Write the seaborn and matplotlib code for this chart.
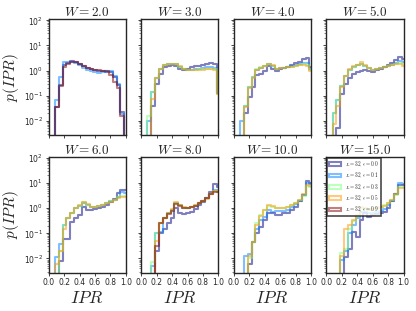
import numpy as np
import pandas as pd
import seaborn as sns
import matplotlib.pyplot as plt
from matplotlib.patches import Patch

# bin edges of the IPR histograms (20 bins, width 0.05)
ipr_edges = [round(0.03 + 0.05 * k, 3) for k in range(21)]
ipr_centers = [round(0.055 + 0.05 * k, 3) for k in range(20)]

disorder = [2.0, 3.0, 4.0, 5.0, 6.0, 8.0, 10.0, 15.0]
eps_values = [0.0, 0.1, 0.3, 0.5, 0.9]

# p(IPR) per bin (None = series not drawn)
w2_e00 = [0, 0.035, 0.26, 1.6, 2.1, 2.4, 2.2, 1.9, 1.55, 1.3, 1.2, 1.1, 1.0, 1.0, 0.9, 0.9, 0.55, 0.26, 0.022, 0]
w2_e01 = [0, 0.065, 0.55, 2.3, 2.3, 2.2, 2.1, 1.6, 1.3, 1.1, 0.97, 0.9, 0.83, 0.9, 0.95, 1.0, 0.6, 0.3, 0.019, 0]
w2_e03 = None
w2_e05 = None
w2_e09 = [0, 0.035, 0.25, 1.4, 1.9, 2.2, 2.2, 1.9, 1.5, 1.3, 1.2, 1.1, 1.05, 0.97, 0.95, 0.65, 0.35, 0.2, 0.016, 0]

w3_e00 = [0, 0, 0.04, 0.3, 0.75, 1.4, 1.5, 1.6, 1.5, 1.2, 1.1, 1.2, 1.4, 1.5, 1.5, 1.7, 1.9, 2.0, 1.8, 0.13]
w3_e01 = [0, 0.01, 0.14, 0.52, 1.2, 1.6, 1.75, 1.75, 1.75, 1.4, 1.2, 1.1, 1.1, 1.15, 1.2, 1.25, 1.35, 1.4, 1.3, 0.13]
w3_e03 = [0, 0.015, 0.14, 0.52, 1.2, 1.6, 1.75, 1.75, 1.75, 1.4, 1.2, 1.1, 1.1, 1.1, 1.15, 1.2, 1.2, 1.2, 1.2, 0.12]
w3_e05 = [0, 0, 0.075, 0.5, 1.2, 1.6, 1.8, 1.9, 1.9, 1.5, 1.2, 1.1, 1.05, 1.05, 1.1, 1.1, 1.15, 1.15, 1.1, 0.12]
w3_e09 = None

w4_e00 = [0, 0, 0.02, 0.09, 0.22, 0.65, 0.75, 0.97, 1.5, 1.2, 1.0, 1.2, 1.3, 1.4, 1.6, 2.0, 2.3, 2.8, 3.3, 1.4]
w4_e01 = [0, 0.01, 0.04, 0.22, 0.55, 1.1, 1.3, 1.5, 1.75, 1.5, 1.2, 1.3, 1.3, 1.4, 1.5, 1.65, 1.75, 2.0, 2.1, 1.2]
w4_e03 = [0, 0, 0.04, 0.22, 0.55, 1.15, 1.35, 1.5, 1.75, 1.5, 1.2, 1.25, 1.3, 1.35, 1.45, 1.55, 1.65, 1.75, 1.7, 1.1]
w4_e05 = [0, 0, 0.035, 0.2, 0.5, 1.1, 1.3, 1.55, 1.9, 1.6, 1.2, 1.25, 1.3, 1.35, 1.45, 1.55, 1.6, 1.65, 1.5, 1.0]
w4_e09 = None

w5_e00 = [0, 0, 0.005, 0.12, 0.3, 0.5, 0.75, 0.9, 1.0, 1.05, 0.95, 0.85, 1.1, 1.2, 1.4, 1.6, 2.0, 2.6, 3.5, 2.8]
w5_e01 = [0, 0.02, 0.065, 0.25, 0.6, 1.1, 1.4, 1.6, 1.9, 1.5, 1.25, 1.1, 1.15, 1.3, 1.35, 1.5, 1.7, 2.0, 2.4, 2.2]
w5_e03 = [0, 0.02, 0.065, 0.25, 0.6, 1.1, 1.4, 1.6, 1.9, 1.5, 1.25, 1.1, 1.15, 1.3, 1.35, 1.5, 1.7, 1.9, 2.1, 1.9]
w5_e05 = [0, 0.0075, 0.04, 0.22, 0.6, 1.15, 1.5, 1.7, 2.2, 1.6, 1.3, 1.1, 1.15, 1.3, 1.35, 1.5, 1.65, 1.8, 1.9, 1.5]
w5_e09 = None

w6_e00 = [0, 0, 0.008, 0.06, 0.06, 0.29, 0.4, 0.54, 1.15, 0.85, 0.85, 0.9, 1.0, 1.15, 1.35, 1.7, 2.3, 4.0, 5.5, 5.5]
w6_e01 = [0, 0.011, 0.038, 0.21, 0.39, 0.63, 1.0, 1.25, 1.6, 1.35, 1.15, 1.15, 1.25, 1.35, 1.6, 1.85, 2.2, 2.9, 4.3, 4.0]
w6_e03 = [0, 0, 0.02, 0.21, 0.39, 0.63, 1.0, 1.25, 1.7, 1.35, 1.15, 1.15, 1.25, 1.35, 1.6, 1.85, 2.2, 2.7, 3.0, 3.0]
w6_e05 = [0, 0.006, 0.02, 0.15, 0.39, 0.63, 1.05, 1.3, 1.75, 1.4, 1.15, 1.15, 1.25, 1.35, 1.6, 1.8, 2.1, 2.6, 2.8, 2.7]
w6_e09 = None

w8_e00 = [0, 0, 0, 0.02, 0.1, 0.15, 0.25, 0.4, 1.0, 0.63, 0.6, 0.63, 0.73, 0.9, 1.35, 1.7, 2.5, 4.3, 8.8, 7.0]
w8_e01 = [0, 0, 0.005, 0.1, 0.11, 0.4, 0.63, 0.85, 1.6, 1.3, 1.0, 1.0, 1.1, 1.25, 1.55, 1.85, 2.5, 3.8, 5.5, 5.0]
w8_e03 = [0, 0, 0.007, 0.1, 0.25, 0.4, 0.63, 0.85, 1.6, 1.3, 1.05, 1.05, 1.15, 1.3, 1.6, 1.85, 2.5, 3.6, 5.0, 4.5]
w8_e05 = [0, 0, 0, 0.05, 0.25, 0.42, 0.65, 0.9, 1.7, 1.35, 1.1, 1.05, 1.15, 1.3, 1.6, 1.85, 2.4, 3.5, 4.8, 4.5]
w8_e09 = [0, 0, 0, 0.03, 0.25, 0.4, 0.6, 0.8, 1.5, 1.25, 1.0, 1.0, 1.1, 1.25, 1.55, 1.85, 2.5, 3.8, 4.3, 4.3]

w10_e00 = [0, 0, 0, 0.006, 0.045, 0.1, 0.18, 0.34, 0.63, 0.63, 0.53, 0.53, 0.63, 0.67, 0.85, 1.15, 1.85, 3.2, 12, 10]
w10_e01 = [0, 0, 0.013, 0.015, 0.045, 0.15, 0.34, 0.46, 0.85, 0.73, 0.8, 0.78, 0.8, 0.85, 1.1, 1.4, 2.0, 3.3, 10, 9]
w10_e03 = [0, 0, 0, 0.01, 0.045, 0.25, 0.53, 0.85, 1.25, 1.15, 1.0, 1.0, 1.05, 1.15, 1.3, 1.6, 2.2, 3.0, 7.5, 7]
w10_e05 = [0, 0, 0, 0.012, 0.045, 0.22, 0.5, 0.85, 1.3, 1.2, 1.0, 1.0, 1.05, 1.15, 1.3, 1.6, 2.2, 3.5, 8, 7.5]
w10_e09 = None

w15_e00 = [0, 0, 0, 0, 0.011, 0.024, 0.11, 0.07, 0.34, 0.63, 0.46, 0.53, 0.6, 0.62, 0.73, 1.0, 1.85, 3.5, 8, 8]
w15_e01 = [0, 0, 0, 0.009, 0.02, 0.1, 0.21, 0.4, 0.73, 0.73, 0.63, 0.65, 0.73, 0.8, 0.95, 1.3, 2.0, 3.5, 10, 9]
w15_e03 = [0, 0, 0, 0.017, 0.024, 0.15, 0.3, 0.5, 1.05, 0.95, 0.85, 0.9, 1.0, 1.15, 1.3, 1.6, 2.2, 3.3, 7, 7]
w15_e05 = [0, 0, 0, 0.013, 0.15, 0.21, 0.34, 0.53, 1.15, 1.0, 0.85, 0.9, 1.0, 1.15, 1.25, 1.6, 2.2, 3.5, 6.5, 6.5]
w15_e09 = None

panels = [
    [w2_e00, w2_e01, w2_e03, w2_e05, w2_e09],
    [w3_e00, w3_e01, w3_e03, w3_e05, w3_e09],
    [w4_e00, w4_e01, w4_e03, w4_e05, w4_e09],
    [w5_e00, w5_e01, w5_e03, w5_e05, w5_e09],
    [w6_e00, w6_e01, w6_e03, w6_e05, w6_e09],
    [w8_e00, w8_e01, w8_e03, w8_e05, w8_e09],
    [w10_e00, w10_e01, w10_e03, w10_e05, w10_e09],
    [w15_e00, w15_e01, w15_e03, w15_e05, w15_e09],
]

sns.set_style("ticks")
plt.rcParams['font.family'] = ['DejaVu Sans']
plt.rcParams['mathtext.fontset'] = 'cm'

colors = plt.cm.jet(np.linspace(0, 1, len(eps_values)))
labels = [r"$L=32, \epsilon=%.1f$" % e for e in eps_values]

fig = plt.figure(figsize=(4.16, 3.11), dpi=100)
axes = fig.subplots(2, 4, sharex=True, sharey=True)
fig.subplots_adjust(left=0.117, right=0.97, top=0.938, bottom=0.123,
                    wspace=0.2, hspace=0.187)

for i, ax in enumerate(axes.flat):
    for j, vals in enumerate(panels[i]):
        if vals is None:
            continue
        hist_df = pd.DataFrame({"ipr": ipr_centers, "p": vals})
        sns.histplot(data=hist_df, x="ipr", weights="p", bins=ipr_edges, element="step",
                     fill=False, color=colors[j], alpha=0.5, linewidth=1.5, ax=ax)
    ax.set_yscale("log")
    ax.set_title(r"$W=%.1f$" % disorder[i], fontsize=9.5, pad=2)
    ax.set_ylabel("")
    ax.set_xlabel("")
    ax.tick_params(which="major", length=2.5, width=0.6, labelsize=5.5, pad=1.5)
    ax.tick_params(which="minor", length=1.3, width=0.4)
    for s in ax.spines.values():
        s.set_linewidth(1.0)

ax0 = axes[0, 0]
ax0.set_xlim(0, 1)
ax0.set_ylim(2.7e-3, 1.1e2)
ax0.set_xticks([0, 0.2, 0.4, 0.6, 0.8, 1.0])
ax0.set_yticks([1e-2, 1e-1, 1e0, 1e1, 1e2])

for ax in axes[:, 0]:
    ax.set_ylabel(r"$p(IPR)$", fontsize=11, labelpad=2)
for ax in axes[1, :]:
    ax.set_xlabel(r"$IPR$", fontsize=12.5, labelpad=1)

handles = [Patch(facecolor="none", edgecolor=c, alpha=0.5, linewidth=1.5) for c in colors]
leg = axes[1, 3].legend(handles, labels, loc="upper left", fontsize=3.8,
                        frameon=True, fancybox=False, borderaxespad=0.15,
                        borderpad=0.3, handlelength=2.4, handleheight=0.7,
                        labelspacing=0.3, handletextpad=0.7)
leg.get_frame().set_edgecolor("0.1")
leg.get_frame().set_linewidth(1.2)

fig.savefig("out.png", dpi=100)
